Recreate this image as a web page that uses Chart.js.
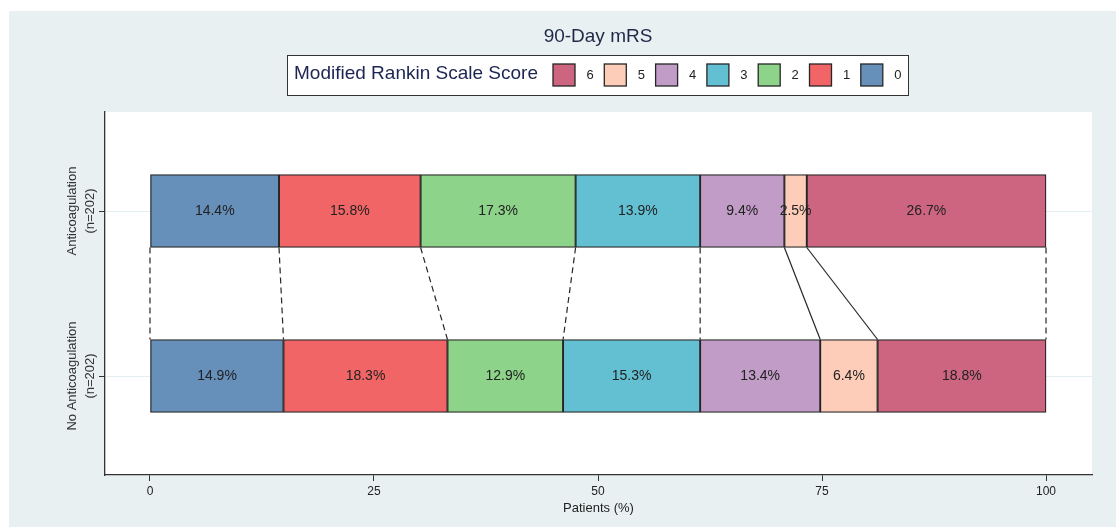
<!DOCTYPE html>
<html>
<head>
<meta charset="utf-8">
<title>90-Day mRS</title>
<script src="https://cdn.jsdelivr.net/npm/chart.js@4.4.1/dist/chart.umd.min.js"></script>
<style>
  html, body { margin: 0; padding: 0; background: #ffffff; }
  #wrap { width: 1116px; height: 527px; }
</style>
</head>
<body>
<div id="wrap"><canvas id="chart" width="1116" height="527"></canvas></div>
<script>
// groups (top to bottom) and their position on the y axis
const groups = ['Anticoagulation', 'No Anticoagulation'];
const groupN = ['(n=202)', '(n=202)'];
const groupPos = [1, 0];

// modified Rankin scale scores, % of patients per group
const scores = ['0', '1', '2', '3', '4', '5', '6'];
const score0 = [14.4, 14.9];
const score1 = [15.8, 18.3];
const score2 = [17.3, 12.9];
const score3 = [13.9, 15.3];
const score4 = [9.4, 13.4];
const score5 = [2.5, 6.4];
const score6 = [26.7, 18.8];
const scoreValues = [score0, score1, score2, score3, score4, score5, score6];

const xTicks = [0, 25, 50, 75, 100];

const scoreColors = ['#668fba', '#f26566', '#8dd38a', '#63c0d2', '#c09cc6', '#fdcdb9', '#cd6580'];
// connector lines between the bars, one per boundary (left edge .. right edge)
const connectorDashed = [true, true, true, true, true, false, false, true];

const FONT = '"Liberation Sans", Arial, sans-serif';
const INK = '#222222';

const datasets = scores.map(function (s, i) {
    return {
        label: s,
        data: groupPos.map(function (p, g) { return { x: scoreValues[i][g], y: p }; }),
        backgroundColor: scoreColors[i],
        borderColor: '#262626',
        borderWidth: 1.3,
        borderSkipped: false,
        barThickness: 73
    };
});

const backdrop = {
    id: 'backdrop',
    beforeDraw: function (chart) {
        const c = chart.ctx, a = chart.chartArea;
        c.save();
        c.fillStyle = '#ffffff';
        c.fillRect(0, 0, chart.width, chart.height);
        c.fillStyle = '#e8f0f2';
        c.fillRect(9, 11, chart.width - 9, chart.height - 11);
        c.fillStyle = '#ffffff';
        c.fillRect(a.left, a.top, a.right - a.left, a.bottom - a.top);
        c.restore();
    }
};

const decorations = {
    id: 'decorations',
    afterDatasetsDraw: function (chart) {
        const c = chart.ctx;
        const xs = chart.scales.x;
        c.save();

        // connectors between the two bars
        const topEl = chart.getDatasetMeta(0).data[0];
        const botEl = chart.getDatasetMeta(0).data[1];
        const yTop = topEl.y + topEl.height / 2;
        const yBot = botEl.y - botEl.height / 2;
        let cumTop = 0, cumBot = 0;
        for (let k = 0; k <= scores.length; k++) {
            if (k > 0) {
                cumTop += scoreValues[k - 1][0];
                cumBot += scoreValues[k - 1][1];
            }
            c.beginPath();
            c.strokeStyle = '#262626';
            c.lineWidth = 1.2;
            c.setLineDash(connectorDashed[k] ? [6, 4] : []);
            c.moveTo(xs.getPixelForValue(cumTop), yTop);
            c.lineTo(xs.getPixelForValue(cumBot), yBot);
            c.stroke();
        }
        c.setLineDash([]);

        // value labels
        c.fillStyle = INK;
        c.font = '14px ' + FONT;
        c.textAlign = 'center';
        c.textBaseline = 'middle';
        chart.data.datasets.forEach(function (ds, i) {
            chart.getDatasetMeta(i).data.forEach(function (el, g) {
                const p = el.getCenterPoint();
                c.fillText(scoreValues[i][g].toFixed(1) + '%', p.x, p.y);
            });
        });
        c.restore();
    },
    afterDraw: function (chart) {
        const c = chart.ctx;
        const ys = chart.scales.y;
        c.save();

        // rotated group labels
        c.fillStyle = '#333333';
        c.font = '13px ' + FONT;
        c.textAlign = 'center';
        c.textBaseline = 'middle';
        groups.forEach(function (g, i) {
            c.save();
            c.translate(72, ys.getPixelForValue(groupPos[i]));
            c.rotate(-Math.PI / 2);
            c.fillText(g, 0, 0);
            c.fillText(groupN[i], 0, 18);
            c.restore();
        });

        // title
        c.fillStyle = '#1f2846';
        c.font = '19px ' + FONT;
        c.fillText('90-Day mRS', 598, 37);

        // legend box
        c.fillStyle = '#ffffff';
        c.fillRect(287, 55, 622, 41);
        c.strokeStyle = '#333333';
        c.lineWidth = 1;
        c.strokeRect(287.5, 55.5, 621, 40);
        c.fillStyle = '#1c2452';
        c.textAlign = 'left';
        c.font = '19px ' + FONT;
        c.fillText('Modified Rankin Scale Score', 294, 74);

        c.font = '13px ' + FONT;
        c.textAlign = 'center';
        for (let k = 0; k < scores.length; k++) {
            const i = scores.length - 1 - k;
            const sx = 553 + k * 51.3;
            c.fillStyle = scoreColors[i];
            c.fillRect(sx, 64, 22, 22);
            c.strokeStyle = '#262626';
            c.lineWidth = 1.3;
            c.strokeRect(sx, 64, 22, 22);
            c.fillStyle = INK;
            c.fillText(scores[i], sx + 37, 75.5);
        }
        c.restore();
    }
};

new Chart(document.getElementById('chart'), {
    type: 'bar',
    data: { datasets: datasets },
    options: {
        indexAxis: 'y',
        responsive: false,
        animation: false,
        devicePixelRatio: 1,
        layout: { padding: { left: 0, right: 24, top: 112, bottom: 0 } },
        plugins: {
            legend: { display: false },
            title: { display: false },
            tooltip: { enabled: false }
        },
        scales: {
            x: {
                type: 'linear',
                stacked: true,
                min: -5.02,
                max: 105.13,
                afterBuildTicks: function (s) { s.ticks = xTicks.map(function (v) { return { value: v }; }); },
                afterFit: function (s) { s.height = 52; },
                grid: { drawOnChartArea: false, drawTicks: true, tickLength: 6, tickColor: '#333333' },
                border: { display: true, color: '#333333', width: 1.3 },
                ticks: { color: INK, font: { family: FONT, size: 12 }, padding: 3 },
                title: { display: true, text: 'Patients (%)', color: INK, font: { family: FONT, size: 13 }, padding: { top: 0, bottom: 11 } }
            },
            y: {
                type: 'linear',
                stacked: true,
                offset: false,
                min: -0.6,
                max: 1.6,
                afterBuildTicks: function (s) { s.ticks = groupPos.slice().reverse().map(function (v) { return { value: v }; }); },
                afterFit: function (s) { s.width = 105; },
                grid: { offset: false, color: '#e4edf2', lineWidth: 1, drawTicks: true, tickLength: 6, tickColor: '#333333' },
                border: { display: true, color: '#333333', width: 1.3 },
                ticks: { display: false }
            }
        }
    },
    plugins: [backdrop, decorations]
});
</script>
</body>
</html>
